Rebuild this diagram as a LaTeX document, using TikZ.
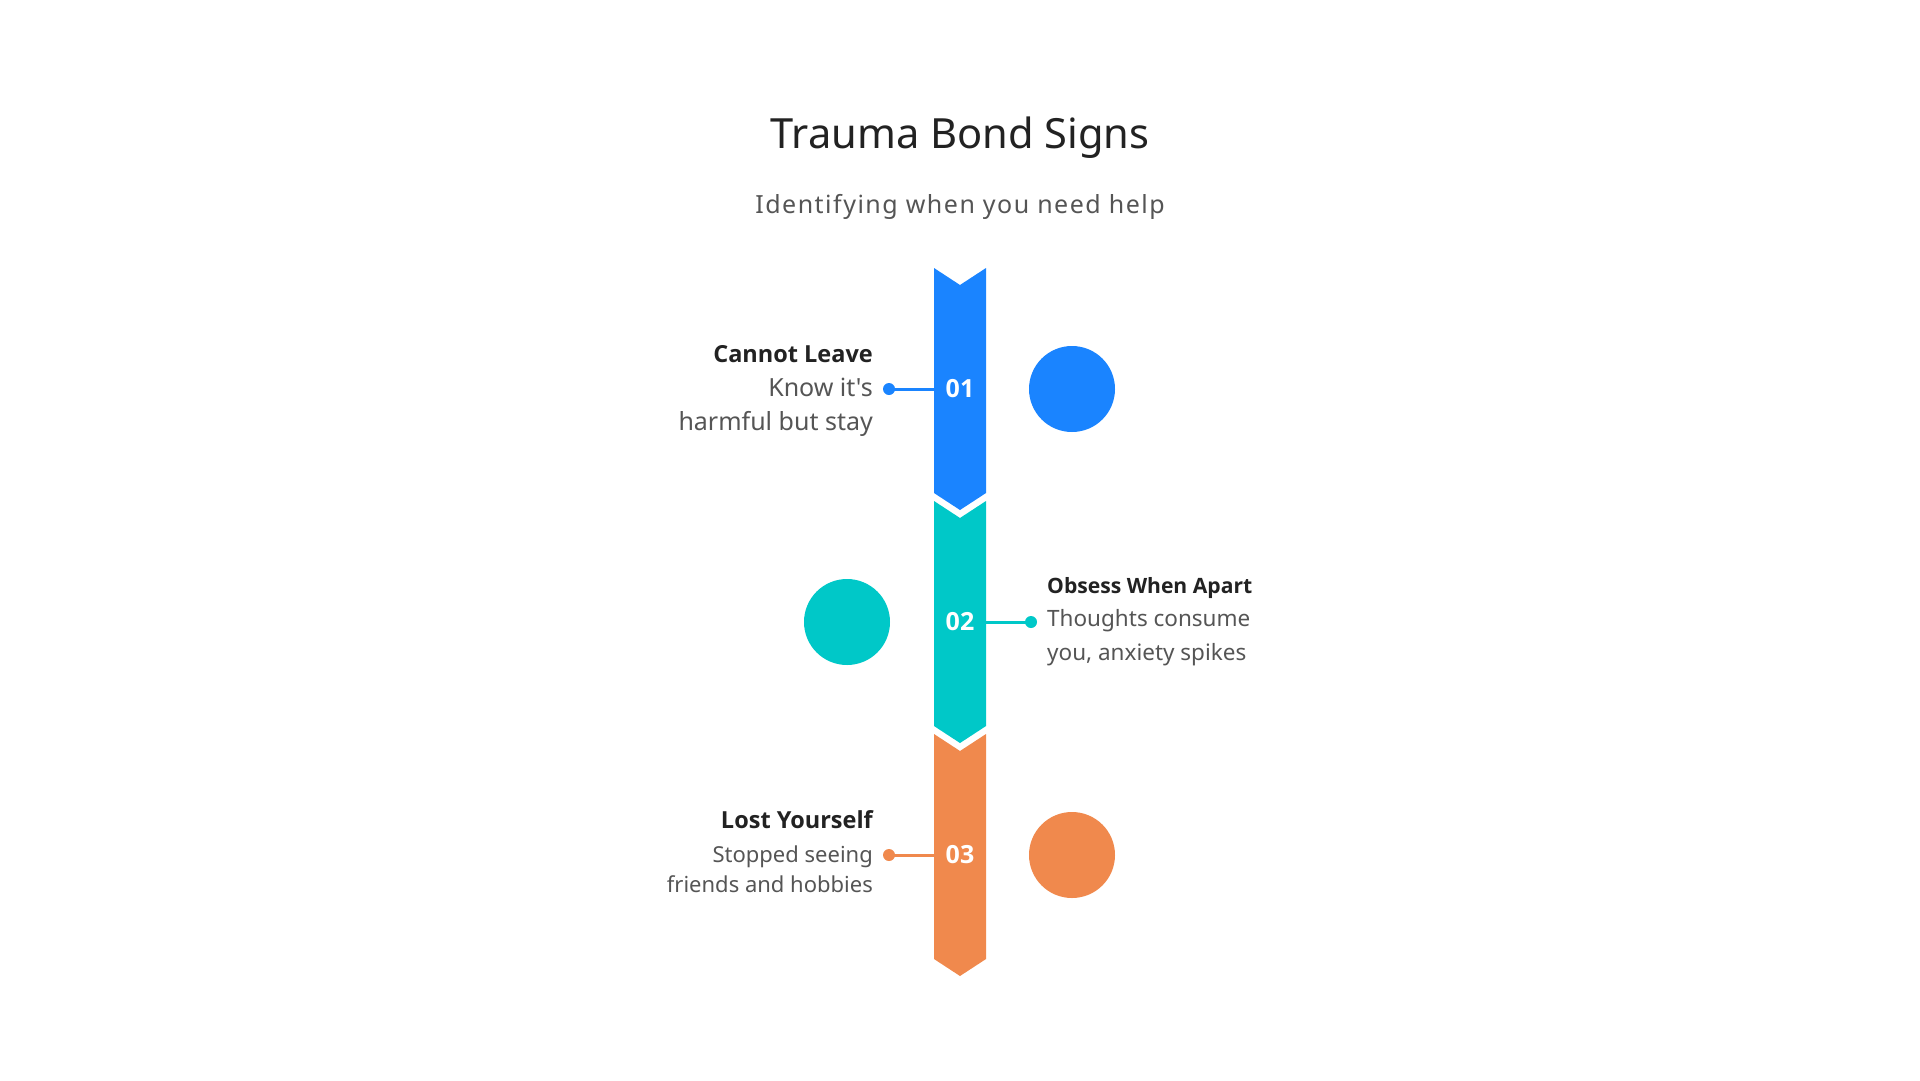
\documentclass[tikz,border=0pt]{standalone}
\usepackage{fontspec}
\setmainfont{Noto Sans}[Ligatures=TeXOff]
\newfontfamily\boldsans{Open Sans}
\usepackage{xcolor}
\usetikzlibrary{positioning}
\definecolor{signblue}{RGB}{26,132,255}
\definecolor{signteal}{RGB}{0,200,200}
\definecolor{signorange}{RGB}{240,137,77}
\definecolor{headgray}{RGB}{34,34,34}
\definecolor{textgray}{RGB}{85,85,85}
\tikzset{%
	segnum/.style={
		inner sep=0,
		text=white,
		font=\boldsans\bfseries\fontsize{25}{30}\selectfont
	},
	signdot/.style={
		circle,
		inner sep=0,
		minimum size=12pt
	},
	bigdot/.style={
		circle,
		inner sep=0,
		minimum size=86pt
	},
	signhead/.style={
		inner sep=0,
		text=headgray,
		font=\boldsans\bfseries\fontsize{23.5}{28}\selectfont
	},
	signtext/.style={
		inner sep=0,
		text=textgray,
		font=\fontsize{22.5}{33.5}\selectfont
	},
}
\begin{document}
\begin{tikzpicture}[x=1pt,y=-1pt]
			\useasboundingbox[fill=white] (0,0) rectangle (1920,1080);
			\node[inner sep=0, text=headgray, font=\fontsize{41.6}{50}\selectfont, anchor=base] (title) at (960,148) {Trauma Bond Signs};
			\node[inner sep=0, text=textgray, font=\addfontfeatures{LetterSpace=6}\fontsize{25}{30}\selectfont, anchor=base] (subtitle) at (960,213) {Identifying when you need help};
			
			% arrow segments
			\fill[signblue] (934,268) -- (960,285) -- (986,268) -- (986,493) -- (960,510) -- (934,493) -- cycle;
			\fill[signteal] (934,501) -- (960,518) -- (986,501) -- (986,726) -- (960,743) -- (934,726) -- cycle;
			\fill[signorange] (934,734) -- (960,751) -- (986,734) -- (986,959) -- (960,976) -- (934,959) -- cycle;
			
			\node[segnum] (n1) at (960,389) {01};
			\node[segnum] (n2) at (960,622) {02};
			\node[segnum] (n3) at (960,855) {03};
			\coordinate (s1) at (934,389);
			\coordinate (s2) at (986,622);
			\coordinate (s3) at (934,855);
			
			\node[signdot, fill=signblue] (d1) at (889,389) {};
			\node[signdot, fill=signteal] (d2) at (1031,622) {};
			\node[signdot, fill=signorange] (d3) at (889,855) {};
			\node[bigdot, fill=signblue] (c1) at (1072,389) {};
			\node[bigdot, fill=signteal] (c2) at (847,622) {};
			\node[bigdot, fill=signorange] (c3) at (1072,855) {};
			
			\draw[signblue, line width=3pt] (d1.center) -- (s1);
			\draw[signteal, line width=3pt] (d2.center) -- (s2);
			\draw[signorange, line width=3pt] (d3.center) -- (s3);
			
			\node[signhead, anchor=base east] (h1) at (873,362) {Cannot Leave};
			\node[signtext, anchor=base east, align=right, font=\fontsize{25}{34}\selectfont] (t1) at (873,430) {Know it's\\harmful but stay};
			\node[signhead, anchor=base west, font=\boldsans\bfseries\fontsize{21.1}{26}\selectfont] (h2) at (1047,593) {Obsess When Apart};
			\node[signtext, anchor=base west, align=left] (t2) at (1047,660) {Thoughts consume\\you, anxiety spikes};
			\node[signhead, anchor=base east] (h3) at (873,828) {Lost Yourself};
			\node[signtext, anchor=base east, align=right, font=\fontsize{22}{30}\selectfont] (t3) at (873,892) {Stopped seeing\\friends and hobbies};
		\end{tikzpicture}
\end{document}
